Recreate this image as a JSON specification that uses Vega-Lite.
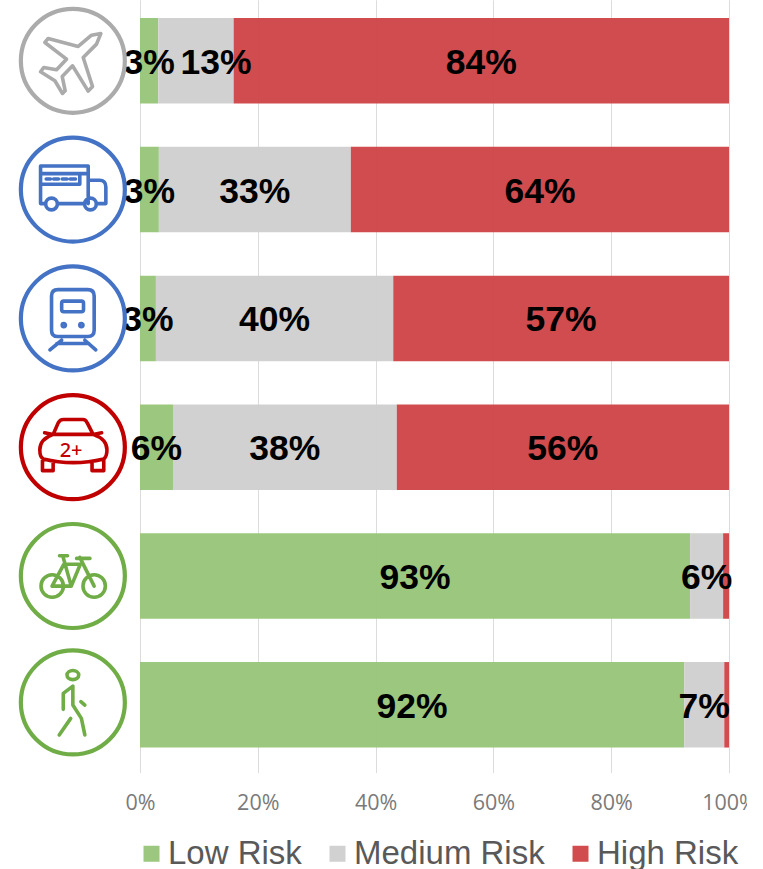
{
"$schema":"https://vega.github.io/schema/vega-lite/v6.json",
"width":589,"height":769,
"autosize":{"type":"none"},
"padding":{"left":140,"top":0,"right":18,"bottom":100},
"background":"white",
"config":{"view":{"stroke":null}},
"datasets":{
"rows":[
{"mode":"Air","risk":"Low Risk","k":1,"v":3.1,"label":"3%"},
{"mode":"Air","risk":"Medium Risk","k":2,"v":12.8,"label":"13%"},
{"mode":"Air","risk":"High Risk","k":3,"v":84.1,"label":"84%"},
{"mode":"Bus","risk":"Low Risk","k":1,"v":3.2,"label":"3%"},
{"mode":"Bus","risk":"Medium Risk","k":2,"v":32.6,"label":"33%"},
{"mode":"Bus","risk":"High Risk","k":3,"v":64.2,"label":"64%"},
{"mode":"Train","risk":"Low Risk","k":1,"v":2.7,"label":"3%"},
{"mode":"Train","risk":"Medium Risk","k":2,"v":40.3,"label":"40%"},
{"mode":"Train","risk":"High Risk","k":3,"v":57,"label":"57%"},
{"mode":"Carpool","risk":"Low Risk","k":1,"v":5.6,"label":"6%"},
{"mode":"Carpool","risk":"Medium Risk","k":2,"v":38,"label":"38%"},
{"mode":"Carpool","risk":"High Risk","k":3,"v":56.4,"label":"56%"},
{"mode":"Bike","risk":"Low Risk","k":1,"v":93.4,"label":"93%"},
{"mode":"Bike","risk":"Medium Risk","k":2,"v":5.6,"label":"6%"},
{"mode":"Bike","risk":"High Risk","k":3,"v":1,"label":""},
{"mode":"Walk","risk":"Low Risk","k":1,"v":92.4,"label":"92%"},
{"mode":"Walk","risk":"Medium Risk","k":2,"v":6.8,"label":"7%"},
{"mode":"Walk","risk":"High Risk","k":3,"v":0.8,"label":""}
],
"modes":[{"mode":"Air"},{"mode":"Bus"},{"mode":"Train"},{"mode":"Carpool"},{"mode":"Bike"},{"mode":"Walk"}]
},
"data":{"name":"rows"},
"encoding":{"y":{"field":"mode","type":"nominal","axis":null,"scale":{"domain":["Air","Bus","Train","Carpool","Bike","Walk"],"range":[-3.6,769.2],"paddingInner":0.336,"paddingOuter":0.168}}},
"layer":[
{"mark":{"type":"bar","opacity":0.97},
 "encoding":{
  "x":{"field":"v","type":"quantitative","stack":"zero","scale":{"domain":[0,100],"nice":false},
   "axis":{"title":null,"values":[0,20,40,60,80,100],"labelExpr":"datum.value+'%'","grid":true,"gridColor":"#dcdcdc","gridWidth":1,"ticks":false,"domain":false,"labelFont":"Open Sans","labelFontSize":21.5,"labelColor":"#7a7a7a","labelPadding":23,"labelOverlap":false,"labelFlush":false,"labelBound":false}},
  "color":{"field":"risk","type":"nominal","scale":{"domain":["Low Risk","Medium Risk","High Risk"],"range":["#98C57A","#CFCFCF","#D04648"]},
   "legend":{"title":null,"orient":"none","legendX":-5,"legendY":837,"direction":"horizontal","columns":3,"symbolType":"square","symbolSize":256,"symbolStrokeWidth":0,"labelFont":"Liberation Sans","labelFontSize":33,"labelColor":"#595959","labelLimit":400,"labelOffset":0,"columnPadding":19}},
  "order":{"field":"k","type":"quantitative"}
 }},
{"transform":[{"filter":"datum.label!=''"}],
 "mark":{"type":"text","font":"Liberation Sans","fontWeight":"bold","fontSize":35.5,"color":"#000000","align":"center","baseline":"middle","yOffset":2,"dx":{"expr":"datum.label=='13%'?20:0"}},
 "encoding":{
  "x":{"field":"v","type":"quantitative","stack":"zero","bandPosition":0.5},
  "detail":{"field":"risk"},
  "order":{"field":"k","type":"quantitative"},
  "text":{"field":"label","type":"nominal"}
 }},
{"data":{"name":"modes"},
 "mark":{"type":"point","shape":"circle","size":10816,"filled":false,"fill":null,"strokeWidth":4.2,"opacity":1,"yOffset":{"expr":"datum.mode=='Walk'?-2.4:0"}},
 "encoding":{
  "x":{"datum":-11.4,"type":"quantitative"},
  "stroke":{"field":"mode","type":"nominal","legend":null,"scale":{"domain":["Air","Bus","Train","Carpool","Bike","Walk"],"range":["#ABABAB","#4472C4","#4472C4","#C00000","#70AD47","#70AD47"]}}
 }},
{"data":{"name":"modes"},
 "mark":{"type":"point","size":11364,"filled":false,"fill":null,"strokeWidth":3.6,"opacity":1,"strokeCap":"round","strokeJoin":"round","yOffset":{"expr":"datum.mode=='Walk'?-2.4:0"}},
 "encoding":{
  "x":{"datum":-11.4,"type":"quantitative"},
  "stroke":{"field":"mode","type":"nominal","legend":null},
  "shape":{"field":"mode","type":"nominal","legend":null,"scale":{"domain":["Air","Bus","Train","Carpool","Bike","Walk"],"range":[
"M.525 -.5125L.444 -.3125L.194 -.0625L.369 .481L.2875 .569L-.006 .094L-.2 .294L-.144 .5625L-.194 .6125L-.3375 .375L-.606 .206L-.544 .125L-.306 .169L-.119 -.031L-.525 -.344L-.4625 -.419L.1 -.269L.35 -.481Z",
"M-.51 .263H-.606V-.444H.288V.263M-.29 .263H.22M.44 .263H.619V-.05Q.619 -.175 .5 -.175H.288M-.606 -.3H.288M-.606 -.1H.13V-.3M-.5 -.2H-.42M-.36 -.2H-.27M-.2 -.2H-.11M-.05 -.2H.05M-.51 .27a.11 .11 0 1 0 .22 0a.11 .11 0 1 0 -.22 0ZM.22 .27a.11 .11 0 1 0 .22 0a.11 .11 0 1 0 -.22 0Z",
"M-.28 -.54H.28Q.4 -.54 .4 -.42V.22Q.4 .34 .28 .34H-.28Q-.4 .34 -.4 .22V-.42Q-.4 -.54 -.28 -.54ZM-.17 -.325H.16Q.2 -.325 .2 -.285V-.165Q.2 -.125 .16 -.125H-.17Q-.21 -.125 -.21 -.165V-.285Q-.21 -.325 -.17 -.325ZM-.2 .125a.03 .03 0 1 0 .06 0a.03 .03 0 1 0 -.06 0ZM.13 .125a.03 .03 0 1 0 .06 0a.03 .03 0 1 0 -.06 0ZM-.43 .59L-.21 .41M.43 .59L.225 .41M-.3 .47H.3",
"M-.37 -.24L-.275 -.456Q-.24 -.52 -.18 -.52H.19Q.24 -.52 .27 -.456L.38 -.24ZM-.53 -.27L-.37 -.24M.38 -.24L.54 -.27M-.37 -.24Q-.62 -.15 -.62 .05Q-.62 .2 -.55 .22Q0 .36 .58 .22Q.64 .18 .64 .05Q.64 -.15 .38 -.24M-.57 .24V.44H-.37V.3M.36 .3V.44H.58V.24",
"M-.5975 .1875a.21 .21 0 1 0 .42 0a.21 .21 0 1 0 -.42 0ZM.19 .1875a.21 .21 0 1 0 .42 0a.21 .21 0 1 0 -.42 0ZM-.39 .19L-.17 -.22H.14L-.03 .19H-.39M-.19 -.38L-.03 .19M-.25 -.38H-.1M.13 -.35L.4 .19M.07 -.33H.32",
"M-.11 -.5125a.11 .085 0 1 0 .22 0a.11 .085 0 1 0 -.22 0ZM-.18 .13V-.17L0 -.306V.05L.16 .3L.225 .61M-.04 .3L-.256 .61M.15 -.015L.225 .05"
]}}
 }},
{"data":{"name":"modes"},
 "transform":[{"filter":"datum.mode=='Carpool'"}],
 "mark":{"type":"text","text":"2+","font":"Noto Sans","fontWeight":500,"fontSize":20,"color":"#C00000","align":"center","baseline":"middle","yOffset":4},
 "encoding":{"x":{"datum":-11.7,"type":"quantitative"}}}
],
"resolve":{"scale":{"color":"independent"}}
}
